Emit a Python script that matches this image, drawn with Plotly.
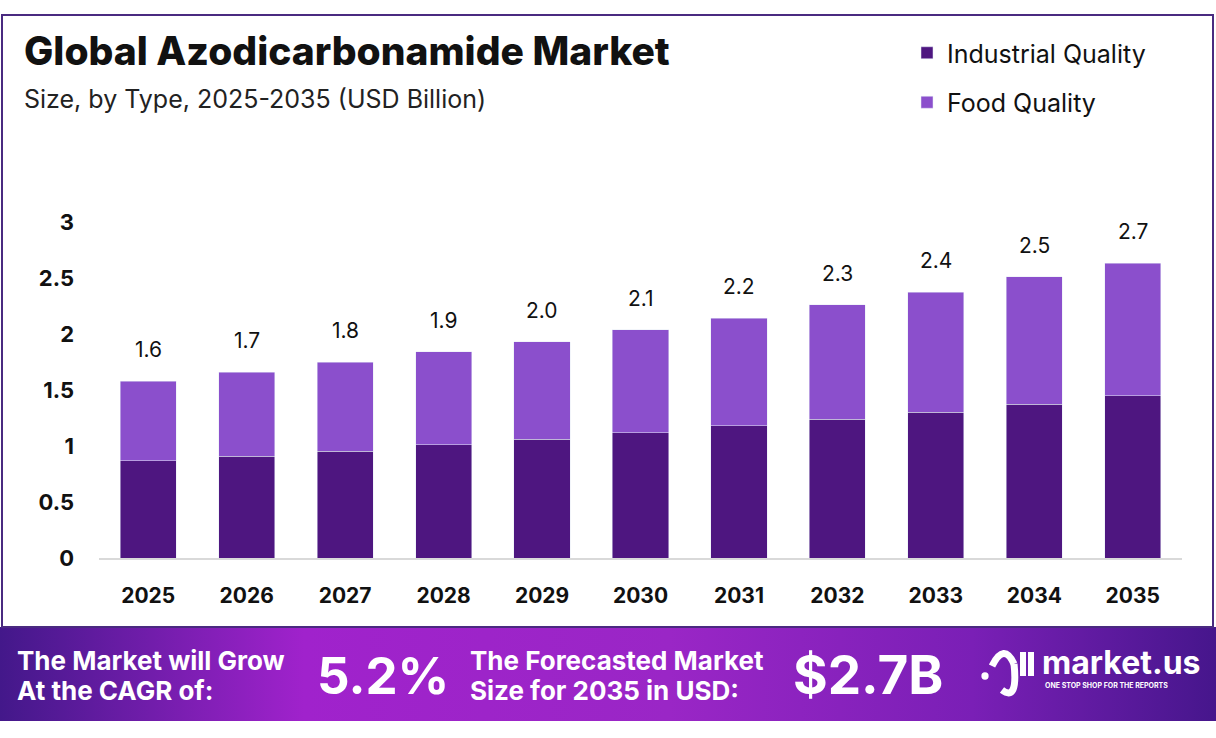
import base64
import plotly.graph_objects as go

years = ["2025", "2026", "2027", "2028", "2029", "2030", "2031", "2032", "2033", "2034", "2035"]
industrial = [0.87, 0.91, 0.955, 1.01, 1.06, 1.12, 1.18, 1.24, 1.30, 1.375, 1.45]
food = [0.71, 0.75, 0.795, 0.83, 0.87, 0.92, 0.96, 1.02, 1.075, 1.135, 1.18]
total_labels = ["1.6", "1.7", "1.8", "1.9", "2.0", "2.1", "2.2", "2.3", "2.4", "2.5", "2.7"]

FONT = "Inter"
W, H = 1216, 738

fig = go.Figure()
fig.add_trace(go.Bar(x=years, y=industrial, name="Industrial Quality", marker_color="#4e1680",
                     legendgroup="a"))
fig.add_trace(go.Bar(x=years, y=food, name="Food Quality", marker_color="#8b4fcc",
                     legendgroup="b"))

# value labels above stacks (category index on the x axis)
for i, (a, b, lab) in enumerate(zip(industrial, food, total_labels)):
    fig.add_annotation(xref="x", yref="y", x=i, y=a + b, text=lab, showarrow=False,
                       yanchor="bottom", yshift=17,
                       font=dict(family=FONT, size=21, color="#111111"))

def px(x, y):
    return x / W, 1 - y / H

# gradient banner as svg image
svg = ('<svg xmlns="http://www.w3.org/2000/svg" width="1216" height="94" viewBox="0 0 1216 94" preserveAspectRatio="none">'
       '<defs><linearGradient id="g" x1="0" y1="0" x2="1" y2="0">'
       '<stop offset="0" stop-color="#43188a"/><stop offset="0.25" stop-color="#a022cc"/>'
       '<stop offset="0.55" stop-color="#9a26c6"/><stop offset="0.8" stop-color="#7a1fb6"/>'
       '<stop offset="1" stop-color="#46168c"/></linearGradient></defs>'
       '<rect width="1216" height="94" fill="url(#g)"/></svg>')
src = "data:image/svg+xml;base64," + base64.b64encode(svg.encode()).decode()
fig.add_layout_image(source=src, xref="paper", yref="paper", x=0, y=1 - 627 / H,
                     sizex=1, sizey=94 / H, xanchor="left", yanchor="top", sizing="stretch", layer="below")

# frame
x0, y0 = px(2, 15)
x1, y1 = px(1213, 627)
fig.add_shape(type="rect", xref="paper", yref="paper", x0=x0, y0=y1, x1=x1, y1=y0,
              line=dict(color="#4a2a80", width=2), fillcolor="rgba(0,0,0,0)")

def txt(x, y, s, size, weight=400, color="#111111", xanchor="left"):
    xx, yy = px(x, y)
    fig.add_annotation(xref="paper", yref="paper", x=xx, y=yy, text=s, showarrow=False,
                       xanchor=xanchor, yanchor="middle",
                       font=dict(family=FONT, size=size, color=color, weight=weight))

txt(22, 50, "Global Azodicarbonamide Market", 39, 800)
txt(22, 99, "Size, by Type, 2025-2035 (USD Billion)", 25, 400, "#222222")

txt(15, 660, "The Market will Grow", 26, 700, "white")
txt(15, 690, "At the CAGR of:", 26, 700, "white")
txt(383, 675, "5.2%", 51, 700, "white", "center")
txt(468, 660, "The Forecasted Market", 26, 700, "white")
txt(468, 690, "Size for 2035 in USD:", 26, 700, "white")
txt(868, 675, "$2.7B", 53, 700, "white", "center")
txt(1040, 662, "market.us", 32, 700, "white")
txt(1043, 685, "ONE STOP SHOP FOR THE REPORTS", 7, 700, "white")

# simple logo mark
fig.add_shape(type="path", xref="paper", yref="paper",
              path="M {:.4f},{:.4f} Q {:.4f},{:.4f} {:.4f},{:.4f}".format(*px(992, 666), *px(1004, 642), *px(1014, 664)),
              line=dict(color="white", width=7))
fig.add_shape(type="path", xref="paper", yref="paper",
              path="M {:.4f},{:.4f} Q {:.4f},{:.4f} {:.4f},{:.4f}".format(*px(1014, 664), *px(1018, 702), *px(1002, 690)),
              line=dict(color="white", width=7))
for xa in (1023, 1031):
    a, b = px(xa, 652)
    c, d = px(xa, 676)
    fig.add_shape(type="line", xref="paper", yref="paper", x0=a, y0=b, x1=c, y1=d,
                  line=dict(color="white", width=6))
a, b = px(985, 676)
fig.add_shape(type="circle", xref="paper", yref="paper", x0=a - 0.003, y0=b - 0.005, x1=a + 0.003, y1=b + 0.005,
              fillcolor="white", line=dict(width=0))

fig.update_layout(
    width=W, height=H,
    margin=dict(l=0, r=0, t=0, b=0, autoexpand=False),
    paper_bgcolor="white", plot_bgcolor="white",
    barmode="stack", bargap=0.43,
    showlegend=True,
    legend=dict(x=px(907, 0)[0], y=px(0, 30)[1], xanchor="left", yanchor="top",
                traceorder="grouped", tracegroupgap=14, itemwidth=30,
                font=dict(family=FONT, size=25, color="#111111"), bgcolor="rgba(0,0,0,0)"),
    xaxis=dict(type="category", domain=[99 / W, 1182 / W], range=[-0.5, 10.5],
               showgrid=False, showline=True, linecolor="#d9d9d9",
               linewidth=2, ticks="", automargin=False, ticklabelstandoff=18,
               tickfont=dict(family=FONT, size=21, color="#111111", weight=700)),
    yaxis=dict(domain=[1 - 558 / H, 1 - 222 / H], range=[0, 3], showgrid=False, zeroline=False,
               automargin=False,
               tickvals=[0, 0.5, 1, 1.5, 2, 2.5, 3], ticktext=["0", "0.5", "1", "1.5", "2", "2.5", "3"],
               tickfont=dict(family=FONT, size=22, color="#111111", weight=700), ticklabelstandoff=24),
)

fig.write_html("out.html", config={"displayModeBar": False},
               post_script="document.body.style.margin='0px';")
